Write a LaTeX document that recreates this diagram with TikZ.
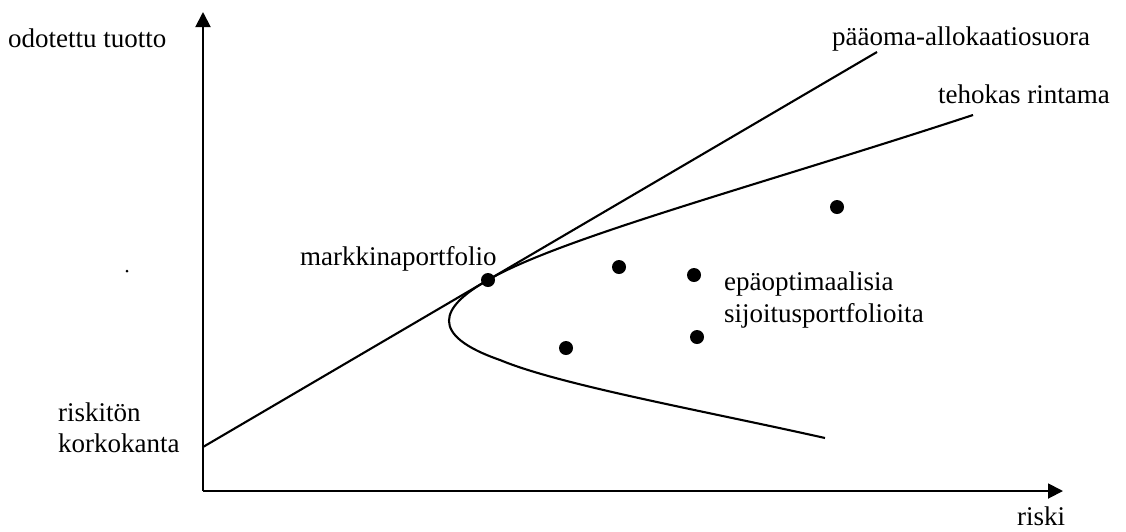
\documentclass[tikz,border=0pt]{standalone}
\usepackage{fontspec}
\setmainfont{Liberation Serif}
\usetikzlibrary{arrows.meta}
\begin{document}
\begin{tikzpicture}[x=1pt,y=-1pt,
  lbl/.style={anchor=base west,inner sep=0pt,font=\fontsize{27}{30}\selectfont},
  dot/.style={circle,fill=black,inner sep=0pt,minimum size=14pt},
  axis/.style={line width=1.9pt,-{Triangle[length=15pt,width=15pt]}},
  curve/.style={line width=2.1pt}]
\useasboundingbox (0,0) rectangle (1126,531);
% axes
\coordinate (O) at (203,491);
\coordinate (ytop) at (203,12);
\coordinate (xend) at (1063,491);
\draw[axis] (O) -- (ytop);
\draw[axis] (O) -- (xend);
% capital allocation line
\coordinate (rf) at (203,447);
\coordinate (calend) at (877,52);
\draw[curve] (rf) -- (calend);
% efficient frontier
\coordinate (fe1) at (973,115);
\coordinate (fe2) at (825,438);
\node[dot] (mp) at (488,280) {};
\draw[curve] (fe1) .. controls (760,185) and (560,238) .. (mp.center)
  .. controls (440,307) and (428,335) .. (500,360)
  .. controls (560,385) and (700,410) .. (fe2);
% suboptimal portfolios
\node[dot] (p1) at (619,267) {};
\node[dot] (p2) at (694,275) {};
\node[dot] (p3) at (837,207) {};
\node[dot] (p4) at (566,348) {};
\node[dot] (p5) at (697,337) {};
\node[circle,fill=black,inner sep=0pt,minimum size=3pt] (sd) at (127,271) {};
% labels
\node[lbl] (ly) at (8,47) {odotettu tuotto};
\node[lbl] (lcal) at (832,45) {pääoma-allokaatiosuora};
\node[lbl] (lfe) at (938,103) {tehokas rintama};
\node[lbl] (lmp) at (300,265) {markkinaportfolio};
\node[lbl] (ls1) at (724,290) {epäoptimaalisia};
\node[lbl] (ls2) at (724,322) {sijoitusportfolioita};
\node[lbl] (lr1) at (58,421) {riskitön};
\node[lbl] (lr2) at (58,452) {korkokanta};
\node[lbl] (lx) at (1017,525) {riski};
\end{tikzpicture}
\end{document}
